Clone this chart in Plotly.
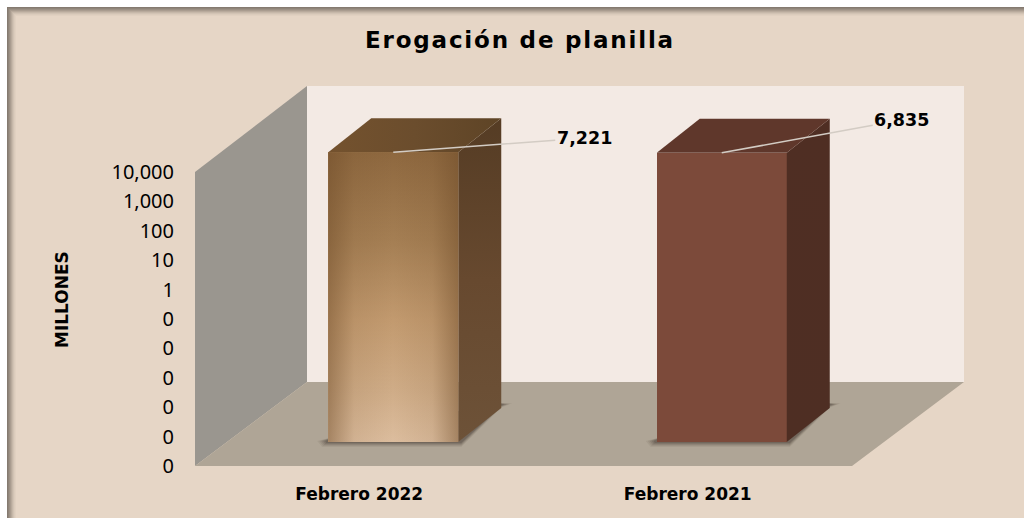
import math
import plotly.graph_objects as go

# ---- data ----
categories = ["Febrero 2022", "Febrero 2021"]
values = [7221, 6835]
title_text = "Erogación de planilla"
y_title = "MILLONES"
label_offsets = [(191, -14), (180, -33)]

# ---- geometry (pixels of the 1024x518 picture) ----
W, H = 1024, 518
PX_AX_LEFT, PX_AX_RIGHT = 195, 852
PX_AX_BOTTOM, PX_AX_TOP = 466, 172
DECADES = 10
LOG_MIN, LOG_MAX = -6, 4
PX_DEC = (PX_AX_BOTTOM - PX_AX_TOP) / DECADES
PX_CAT = (PX_AX_RIGHT - PX_AX_LEFT) / 2
BAR_SHIFT_X, BAR_SHIFT_Y = 34, 24
DEPTH_X, DEPTH_Y = 43, 34
BAR_W = 130 / PX_CAT
EXTRA_DEC = 3

def px(x): return x / W
def py(y): return 1 - y / H

def path(points):
    return "M" + " L".join(f"{px(a):.5f},{py(b):.5f}" for a, b in points) + " Z"

def poly_shape(points, color):
    return dict(type="path", xref="paper", yref="paper", path=path(points),
                fillcolor=color, line=dict(width=0), layer="below")

shapes = []
# panel and its inner shadow at top and left
shapes.append(dict(type="rect", xref="paper", yref="paper", x0=px(7), x1=1, y0=0, y1=py(7),
                   fillcolor="#E6D6C6", line=dict(width=0), layer="below"))
frame_steps = ["#857A70", "#8F8479", "#9C9084", "#A99C8F", "#B8AA9C", "#C6B8A9", "#D2C3B4", "#DBCCBC", "#E1D1C1"]
for i, c in enumerate(frame_steps):
    shapes.append(dict(type="rect", xref="paper", yref="paper", x0=px(7 + i), x1=px(8 + i), y0=0, y1=py(7 + i),
                       fillcolor=c, line=dict(width=0), layer="below"))
    shapes.append(dict(type="rect", xref="paper", yref="paper", x0=px(7 + i), x1=1, y0=py(8 + i), y1=py(7 + i),
                       fillcolor=c, line=dict(width=0), layer="below"))

# walls and floor
BACK_L, BACK_R, BACK_T, BACK_B = 307, 964, 86, 382
shapes.append(poly_shape([(BACK_L, BACK_T), (BACK_R, BACK_T), (BACK_R, BACK_B), (BACK_L, BACK_B)], "#F3EAE4"))
shapes.append(poly_shape([(PX_AX_LEFT, PX_AX_TOP), (BACK_L, BACK_T), (BACK_L, BACK_B), (PX_AX_LEFT, PX_AX_BOTTOM)], "#9A968F"))
shapes.append(poly_shape([(PX_AX_LEFT, PX_AX_BOTTOM), (PX_AX_RIGHT, PX_AX_BOTTOM), (BACK_R, BACK_B), (BACK_L, BACK_B)], "#AFA596"))

# soft shadows on the floor
for i in range(len(values)):
    c = PX_AX_LEFT + PX_CAT * (i + 0.5) + BAR_SHIFT_X
    l, r = c - BAR_W * PX_CAT / 2, c + BAR_W * PX_CAT / 2
    for g, a in [(5, 0.07), (4, 0.09), (3, 0.12), (2, 0.15), (1, 0.18)]:
        shapes.append(poly_shape([(l - 1 - 2 * g, 441), (l + 5, 437), (r + DEPTH_X - 3, 403), (r + DEPTH_X + 1 + 2 * g, 405 - g / 3),
                                  (r + DEPTH_X, 405 + g / 2), (r + 3, 442 + g), (l - 1 - g, 442 + g)], f"rgba(50,40,32,{a})"))

fig = go.Figure()

# invisible trace carrying the visible axes
fig.add_trace(go.Scatter(x=list(range(len(categories))), y=values, mode="markers", marker=dict(opacity=0),
                         xaxis="x", yaxis="y", hoverinfo="skip", showlegend=False))

# bars
front_colors = ["#A17C53", "#7C4A3A"]
side_grad = [[[0, "#6D5238"], [0.5, "#67492F"], [1, "#553C24"]],
             [[0, "#4E2E23"], [1, "#4F2E23"]]]
top_grad = [[[0, "#74522E"], [0.5, "#6B4D2D"], [1, "#5E4426"]],
            [[0, "#5F372B"], [1, "#5F372B"]]]
fig.add_trace(go.Bar(x=list(range(len(values))), y=values, width=BAR_W, marker=dict(color=front_colors, line=dict(width=0)),
                     xaxis="x2", yaxis="y2", showlegend=False, hoverinfo="skip"))

FLOOR = 10.0 ** LOG_MIN
DX = DEPTH_X / PX_CAT
DY = 10 ** (DEPTH_Y / PX_DEC)

def face(xs, ys, grad, orient):
    fig.add_trace(go.Scatter(x=xs, y=ys, mode="lines", fill="toself", line=dict(width=0),
                             fillgradient=dict(type=orient, colorscale=grad),
                             xaxis="x2", yaxis="y2", showlegend=False, hoverinfo="skip"))

for i, v in enumerate(values):
    l, r = i - BAR_W / 2, i + BAR_W / 2
    # side
    face([r, r + DX, r + DX, r, r], [FLOOR, FLOOR * DY, v * DY, v, FLOOR], side_grad[i], "vertical")
    # top
    face([l, l + DX, r + DX, r, l], [v, v * DY, v * DY, v, v], top_grad[i], "horizontal")

# gradient on the front of the first bar
l, r = -BAR_W / 2, BAR_W / 2
v = values[0]
face([l, r, r, l, l], [FLOOR, FLOOR, v, v, FLOOR],
     [[0, "#DCBD9E"], [0.18, "#CFAC87"], [0.42, "#C29A6F"], [0.7, "#A47E53"], [1, "#8E683F"]], "vertical")
face([l, r, r, l, l], [FLOOR, FLOOR, v, v, FLOOR],
     [[0, "rgba(110,75,40,0.5)"], [0.2, "rgba(110,75,40,0.1)"], [0.5, "rgba(110,75,40,0)"],
      [0.8, "rgba(110,75,40,0.1)"], [1, "rgba(110,75,40,0.5)"]], "horizontal")

# value labels with leader lines
annotations = []
for i, (v, (ax, ay)) in enumerate(zip(values, label_offsets)):
    annotations.append(dict(x=i, y=math.log10(v), xref="x2", yref="y2", text=f"<b>{v:,}</b>",
                            showarrow=True, arrowhead=0, arrowwidth=1.5, arrowcolor="#D3CCC4",
                            ax=ax, ay=ay, axref="pixel", ayref="pixel",
                            font=dict(family="DejaVu Sans", size=17.5, color="black")))
annotations.append(dict(x=62 / W, y=1 - 300 / H, xref="paper", yref="paper", text=f"<b>{y_title}</b>", showarrow=False,
                        xanchor="center", yanchor="middle", textangle=-90,
                        font=dict(family="DejaVu Sans", size=17, color="black")))

x_dom = [PX_AX_LEFT / W, PX_AX_RIGHT / W]
y_dom = [1 - PX_AX_BOTTOM / H, 1 - PX_AX_TOP / H]
x2_left = PX_AX_LEFT + BAR_SHIFT_X
x2_extra = (W - (PX_AX_RIGHT + BAR_SHIFT_X)) / PX_CAT
y2_bottom = PX_AX_BOTTOM - BAR_SHIFT_Y
y2_top = y2_bottom - (DECADES + EXTRA_DEC) * PX_DEC

fig.update_layout(
    width=W, height=H, margin=dict(l=0, r=0, t=0, b=0), autosize=False,
    paper_bgcolor="white", plot_bgcolor="rgba(0,0,0,0)", showlegend=False,
    bargap=0, shapes=shapes, annotations=annotations,
    font=dict(family="DejaVu Sans", color="black"),
    title=dict(text=f"<b>{title_text}</b>", x=520 / W, y=1 - 40 / H, xanchor="center", yanchor="middle",
               font=dict(family="DejaVu Sans", size=23, color="black")),
    xaxis=dict(domain=x_dom, range=[-0.5, 1.5], tickvals=list(range(len(categories))), ticktext=categories,
               showgrid=False, zeroline=False, showline=False, ticks="", ticklabelstandoff=16, automargin=False,
               tickfont=dict(family="DejaVu Sans", size=17, weight="bold", color="black")),
    yaxis=dict(domain=y_dom, type="log", range=[LOG_MIN, LOG_MAX], dtick=1, tickformat=",.0f",
               showgrid=False, zeroline=False, showline=False, ticks="", ticklabelstandoff=20, automargin=False,
               tickfont=dict(family="Noto Sans", size=20, color="black")),
    xaxis2=dict(domain=[x2_left / W, 1], range=[-0.5, 1.5 + x2_extra], anchor="y2",
                visible=False, showgrid=False, zeroline=False),
    yaxis2=dict(domain=[1 - y2_bottom / H, 1 - y2_top / H], type="log", range=[LOG_MIN, LOG_MAX + EXTRA_DEC],
                anchor="x2", visible=False, showgrid=False, zeroline=False),
)

fig.write_html("out.html", config=dict(displayModeBar=False), post_script=(
    "document.body.style.margin='0';"
    "var t=document.querySelector('.gtitle'); if(t){t.style.letterSpacing='1.8px';}"
))
